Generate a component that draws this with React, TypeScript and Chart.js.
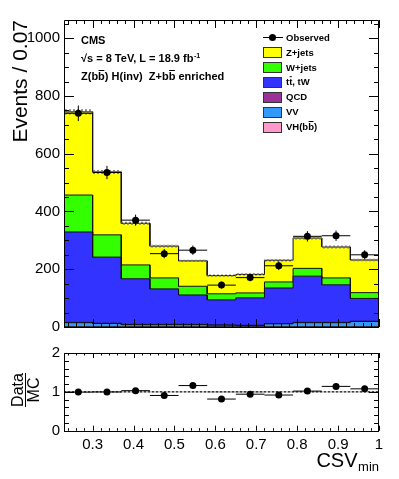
import React, { useEffect, useRef } from 'react';
import { Chart, registerables } from 'chart.js';

Chart.register(...registerables);
Chart.defaults.font.family = "'Liberation Sans', Arial, Helvetica, sans-serif";

// ---------- data ----------
const BIN_EDGES = [0.23, 0.3, 0.37, 0.44, 0.51, 0.58, 0.65, 0.72, 0.79, 0.86, 0.93, 1.0];
const DATA = [740, 535, 370, 254, 266, 145, 171, 212, 314, 316, 250];
const DATA_ERR = [27, 23, 19, 16, 16, 12, 13, 15, 18, 18, 16];
const Z_JETS = [288, 218, 144, 110, 88, 63, 64, 75, 105, 107, 113];
const W_JETS = [128, 77, 48, 38, 30, 21, 17, 21, 27, 24, 20];
const TT_TW = [313, 229, 158, 123, 102, 87, 95, 123, 160, 130, 79];
const QCD = [1, 1, 1, 1, 1, 1, 1, 1, 1, 1, 1];
const VV = [14, 11, 7, 7, 7, 5, 4, 10, 14, 14, 18];
const VH_BB = [1, 1, 1, 1, 1, 1, 1, 1, 1, 1, 1];
const MC_UNC = [9, 7, 5, 5, 4, 4, 4, 4, 5, 5, 4];

const Y_TICKS = [0, 200, 400, 600, 800, 1000];
const RATIO_Y_TICKS = [0, 1, 2];
const X_TICKS = [0.3, 0.4, 0.5, 0.6, 0.7, 0.8, 0.9, 1.0];

const X_MIN = 0.23;
const X_MAX = 1.0;
const Y_MAX = 1063;

// stack from bottom to top
const STACK = [
  { label: 'VH(bb)', values: VH_BB, color: '#FF99CC' },
  { label: 'VV', values: VV, color: '#3399FF' },
  { label: 'QCD', values: QCD, color: '#993399' },
  { label: 'tt, tW', values: TT_TW, color: '#3333FF' },
  { label: 'W+jets', values: W_JETS, color: '#33FF00' },
  { label: 'Z+jets', values: Z_JETS, color: '#FFFF00' },
];

const N = DATA.length;
const TOTAL = DATA.map((_, i) => STACK.reduce((s, c) => s + c.values[i], 0));
const RATIO = DATA.map((d, i) => d / TOTAL[i]);
const RATIO_ERR = DATA_ERR.map((e, i) => e / TOTAL[i]);
const RATIO_UNC = MC_UNC.map((u, i) => u / TOTAL[i]);

const FONT = "'Liberation Sans', Arial, Helvetica, sans-serif";

// ---------- helpers ----------
type P = { x: number; y: number | null };
const center = (i: number) => (BIN_EDGES[i] + BIN_EDGES[i + 1]) / 2;
function hist(values: number[]): P[] {
  const out: P[] = [];
  values.forEach((v, i) => {
    out.push({ x: BIN_EDGES[i], y: v });
    out.push({ x: BIN_EDGES[i + 1], y: v });
  });
  return out;
}
function errX(values: number[]): P[] {
  const out: P[] = [];
  values.forEach((v, i) => {
    out.push({ x: BIN_EDGES[i], y: v });
    out.push({ x: BIN_EDGES[i + 1], y: v });
    out.push({ x: BIN_EDGES[i + 1], y: null });
  });
  return out;
}
function errY(values: number[], errs: number[]): P[] {
  const out: P[] = [];
  values.forEach((v, i) => {
    out.push({ x: center(i), y: v - errs[i] });
    out.push({ x: center(i), y: v + errs[i] });
    out.push({ x: center(i), y: null });
  });
  return out;
}
function points(values: number[]): P[] {
  return values.map((v, i) => ({ x: center(i), y: v }));
}

// draw text parts, some with overline; returns end x
function drawParts(ctx: CanvasRenderingContext2D, parts: [string, boolean][], x: number, baseline: number, barOffset: number) {
  let cx = x;
  for (const [t, bar] of parts) {
    ctx.fillText(t, cx, baseline);
    const w = ctx.measureText(t).width;
    if (bar) {
      ctx.beginPath();
      ctx.lineWidth = 1;
      ctx.moveTo(cx + 0.5, baseline - barOffset);
      ctx.lineTo(cx + w - 0.5, baseline - barOffset);
      ctx.stroke();
    }
    cx += w;
  }
  return cx;
}

function makeHatch(): CanvasPattern | string {
  const pc = document.createElement('canvas');
  pc.width = 4;
  pc.height = 4;
  const c = pc.getContext('2d');
  if (!c) return 'rgba(128,128,128,0.5)';
  c.fillStyle = 'rgba(110,110,110,0.85)';
  for (let i = 0; i < 4; i++) {
    c.fillRect(i, 3 - i, 1, 1);
    c.fillRect(i, i, 1, 1);
  }
  const ctx = document.createElement('canvas').getContext('2d');
  return ctx ? (ctx.createPattern(pc, 'repeat') as CanvasPattern) : 'rgba(128,128,128,0.5)';
}

const px = (v: number) => Math.round(v) + 0.5;

// ---------- plugins ----------
const mainDecor = {
  id: 'mainDecor',
  afterDraw(chart: any) {
    const { ctx, chartArea: a, scales } = chart;
    const x = scales.x;
    const y = scales.y;
    ctx.save();
    ctx.strokeStyle = '#000';
    ctx.lineWidth = 1;
    ctx.beginPath();
    for (let k = 0; k * 50 <= Y_MAX; k++) {
      const v = k * 50;
      const p = px(y.getPixelForValue(v));
      const len = v % 200 === 0 ? 10 : 5;
      ctx.moveTo(a.left, p);
      ctx.lineTo(a.left + len, p);
      ctx.moveTo(a.right, p);
      ctx.lineTo(a.right - len, p);
    }
    for (let k = 12; k <= 50; k++) {
      const v = k * 0.02;
      if (v < X_MIN - 1e-9) continue;
      const p = px(x.getPixelForValue(v));
      const len = k % 5 === 0 ? 8 : 4;
      ctx.moveTo(p, a.bottom);
      ctx.lineTo(p, a.bottom - len);
      ctx.moveTo(p, a.top);
      ctx.lineTo(p, a.top + len);
    }
    ctx.stroke();
    ctx.beginPath();
    ctx.rect(px(a.left), px(a.top), Math.round(a.right - a.left) - 1, Math.round(a.bottom - a.top));
    ctx.stroke();

    // header texts
    ctx.fillStyle = '#000';
    ctx.strokeStyle = '#000';
    ctx.textAlign = 'left';
    ctx.textBaseline = 'alphabetic';
    ctx.font = `bold 11px ${FONT}`;
    ctx.fillText('CMS', 81, 44);
    const end = drawParts(ctx, [['\u221As = 8 TeV, L = 18.9 fb', false]], 81, 62.3, 9);
    ctx.font = `bold 7px ${FONT}`;
    ctx.fillText('-1', end + 0.5, 57.5);
    ctx.font = `bold 11px ${FONT}`;
    drawParts(
      ctx,
      [
        ['Z(b', false],
        ['b', true],
        [') H(inv)  Z+b', false],
        ['b', true],
        [' enriched', false],
      ],
      81,
      80,
      9.5
    );

    // legend
    const lx = 263;
    const tx = 286;
    ctx.font = `bold 9.5px ${FONT}`;
    // Observed
    ctx.beginPath();
    ctx.moveTo(lx, 37.5);
    ctx.lineTo(lx + 20, 37.5);
    ctx.stroke();
    ctx.beginPath();
    ctx.arc(lx + 9.5, 37.5, 3.5, 0, Math.PI * 2);
    ctx.fill();
    ctx.fillText('Observed', tx, 41);
    const entries: { parts: [string, boolean][]; color: string; yc: number }[] = [
      { parts: [['Z+jets', false]], color: '#FFFF00', yc: 52.3 },
      { parts: [['W+jets', false]], color: '#33FF00', yc: 67 },
      { parts: [['t', false], ['t', true], [', tW', false]], color: '#3333FF', yc: 81.7 },
      { parts: [['QCD', false]], color: '#993399', yc: 96.7 },
      { parts: [['VV', false]], color: '#3399FF', yc: 111.5 },
      { parts: [['VH(b', false], ['b', true], [')', false]], color: '#FF99CC', yc: 126.5 },
    ];
    for (const e of entries) {
      const top = Math.round(e.yc - 5);
      ctx.fillStyle = e.color;
      ctx.fillRect(lx + 0.5, top + 0.5, 18, 10);
      ctx.strokeStyle = '#333';
      ctx.strokeRect(lx + 0.5, top + 0.5, 18, 10);
      ctx.fillStyle = '#000';
      ctx.strokeStyle = '#000';
      drawParts(ctx, e.parts, tx, e.yc + 3.5, 8.5);
    }
    ctx.restore();
  },
};

const ratioDecor = {
  id: 'ratioDecor',
  afterDraw(chart: any) {
    const { ctx, chartArea: a, scales } = chart;
    const x = scales.x;
    const y = scales.y;
    ctx.save();
    ctx.strokeStyle = '#000';
    ctx.lineWidth = 1;
    ctx.beginPath();
    for (let k = 0; k <= 10; k++) {
      const v = k * 0.2;
      const p = px(y.getPixelForValue(v));
      const len = k % 5 === 0 ? 10 : 5;
      ctx.moveTo(a.left, p);
      ctx.lineTo(a.left + len, p);
      ctx.moveTo(a.right, p);
      ctx.lineTo(a.right - len, p);
    }
    for (let k = 12; k <= 50; k++) {
      const v = k * 0.02;
      if (v < X_MIN - 1e-9) continue;
      const p = px(x.getPixelForValue(v));
      const len = k % 5 === 0 ? 5 : 2.5;
      ctx.moveTo(p, a.bottom);
      ctx.lineTo(p, a.bottom - len);
      ctx.moveTo(p, a.top);
      ctx.lineTo(p, a.top + len);
    }
    ctx.stroke();
    ctx.beginPath();
    ctx.rect(px(a.left), px(a.top), Math.round(a.right - a.left) - 1, Math.round(a.bottom - a.top));
    ctx.stroke();

    // Data / MC
    ctx.fillStyle = '#000';
    ctx.save();
    ctx.translate(25, 50);
    ctx.rotate(-Math.PI / 2);
    ctx.font = `16px ${FONT}`;
    ctx.textAlign = 'center';
    ctx.textBaseline = 'alphabetic';
    ctx.fillText('Data', 0, -2);
    ctx.fillText('MC', 0, 13.5);
    ctx.beginPath();
    ctx.moveTo(-17, 0.5);
    ctx.lineTo(17, 0.5);
    ctx.stroke();
    ctx.restore();

    // CSV_min
    ctx.textAlign = 'left';
    ctx.textBaseline = 'alphabetic';
    ctx.font = `13px ${FONT}`;
    const wMin = ctx.measureText('min').width;
    const minX = 379 - wMin;
    ctx.fillText('min', minX, 131);
    ctx.font = `20px ${FONT}`;
    const wCsv = ctx.measureText('CSV').width;
    ctx.fillText('CSV', minX - wCsv - 0.5, 126.7);
    ctx.restore();
  },
};

// ---------- configs ----------
function mainConfig(): any {
  const hatch = makeHatch();
  const datasets: any[] = [];
  let run = new Array(N).fill(0);
  STACK.forEach((s, k) => {
    run = run.map((r: number, i: number) => r + s.values[i]);
    datasets.push({
      label: s.label,
      data: hist(run),
      backgroundColor: s.color,
      borderColor: '#111',
      borderWidth: 1,
      fill: k === 0 ? 'origin' : '-1',
      pointRadius: 0,
      order: 0,
    });
  });
  datasets.push({
    label: 'unc-lo',
    data: hist(TOTAL.map((t, i) => t - MC_UNC[i])),
    borderWidth: 0,
    borderColor: 'rgba(0,0,0,0)',
    fill: false,
    pointRadius: 0,
    order: -1,
  });
  datasets.push({
    label: 'unc-hi',
    data: hist(TOTAL.map((t, i) => t + MC_UNC[i])),
    borderWidth: 0,
    borderColor: 'rgba(0,0,0,0)',
    backgroundColor: hatch,
    fill: '-1',
    pointRadius: 0,
    order: -1,
  });
  datasets.push({
    label: 'err-x',
    data: errX(DATA),
    borderColor: '#000',
    borderWidth: 1,
    pointRadius: 0,
    fill: false,
    spanGaps: false,
    order: -2,
  });
  datasets.push({
    label: 'err-y',
    data: errY(DATA, DATA_ERR),
    borderColor: '#000',
    borderWidth: 1,
    pointRadius: 0,
    fill: false,
    spanGaps: false,
    order: -2,
  });
  datasets.push({
    label: 'Observed',
    data: points(DATA),
    showLine: false,
    pointRadius: 3.5,
    pointBackgroundColor: '#000',
    pointBorderColor: '#000',
    pointBorderWidth: 0,
    fill: false,
    order: -3,
  });

  return {
    type: 'line',
    data: { datasets },
    options: {
      animation: false,
      responsive: false,
      maintainAspectRatio: false,
      events: [],
      layout: { padding: { left: 0, right: 20, top: 20, bottom: 11.7 } },
      plugins: { legend: { display: false }, tooltip: { enabled: false } },
      scales: {
        x: { type: 'linear', min: X_MIN, max: X_MAX, display: false },
        y: {
          type: 'linear',
          min: 0,
          max: Y_MAX,
          afterBuildTicks: (s: any) => {
            s.ticks = Y_TICKS.map((v) => ({ value: v }));
          },
          afterFit: (s: any) => {
            s.width = 64;
          },
          grid: { display: false, drawTicks: false },
          border: { display: false },
          ticks: {
            font: { size: 15 },
            color: '#000',
            padding: 4,
            autoSkip: false,
            callback: (v: any) => String(v),
          },
          title: {
            display: true,
            text: 'Events / 0.07',
            align: 'end',
            color: '#000',
            font: { size: 21 },
            padding: { top: 8.5, bottom: 0 },
          },
        },
      },
    },
    plugins: [mainDecor],
  };
}

function ratioConfig(): any {
  const datasets: any[] = [
    {
      label: 'r-unc-lo',
      data: hist(RATIO_UNC.map((u) => 1 - u)),
      borderWidth: 0,
      borderColor: 'rgba(0,0,0,0)',
      fill: false,
      pointRadius: 0,
      order: 0,
    },
    {
      label: 'r-unc-hi',
      data: hist(RATIO_UNC.map((u) => 1 + u)),
      borderWidth: 0,
      borderColor: 'rgba(0,0,0,0)',
      backgroundColor: 'rgba(150,150,150,0.8)',
      fill: '-1',
      pointRadius: 0,
      order: 0,
    },
    {
      label: 'one',
      data: [
        { x: X_MIN, y: 1 },
        { x: X_MAX, y: 1 },
      ],
      borderColor: '#000',
      borderWidth: 1,
      borderDash: [2, 2],
      pointRadius: 0,
      fill: false,
      order: -1,
    },
    {
      label: 'r-err-x',
      data: errX(RATIO),
      borderColor: '#000',
      borderWidth: 1,
      pointRadius: 0,
      fill: false,
      spanGaps: false,
      order: -2,
    },
    {
      label: 'r-err-y',
      data: errY(RATIO, RATIO_ERR),
      borderColor: '#000',
      borderWidth: 1,
      pointRadius: 0,
      fill: false,
      spanGaps: false,
      order: -2,
    },
    {
      label: 'ratio',
      data: points(RATIO),
      showLine: false,
      pointRadius: 3.5,
      pointBackgroundColor: '#000',
      pointBorderColor: '#000',
      pointBorderWidth: 0,
      fill: false,
      order: -3,
    },
  ];
  return {
    type: 'line',
    data: { datasets },
    options: {
      animation: false,
      responsive: false,
      maintainAspectRatio: false,
      events: [],
      layout: { padding: { left: 0, right: 20, top: 8.3, bottom: 0 } },
      plugins: { legend: { display: false }, tooltip: { enabled: false } },
      scales: {
        x: {
          type: 'linear',
          min: X_MIN,
          max: X_MAX,
          afterBuildTicks: (s: any) => {
            s.ticks = X_TICKS.map((v) => ({ value: v }));
          },
          afterFit: (s: any) => {
            s.height = 48.3;
          },
          grid: { display: false, drawTicks: false },
          border: { display: false },
          ticks: {
            font: { size: 15 },
            color: '#000',
            padding: 5,
            autoSkip: false,
            maxRotation: 0,
            callback: (v: any) => String(Math.round(Number(v) * 10) / 10),
          },
        },
        y: {
          type: 'linear',
          min: 0,
          max: 2,
          afterBuildTicks: (s: any) => {
            s.ticks = RATIO_Y_TICKS.map((v) => ({ value: v }));
          },
          afterFit: (s: any) => {
            s.width = 64;
          },
          grid: { display: false, drawTicks: false },
          border: { display: false },
          ticks: {
            font: { size: 15 },
            color: '#000',
            padding: 4,
            autoSkip: false,
            callback: (v: any) => String(v),
          },
        },
      },
    },
    plugins: [ratioDecor],
  };
}

export default function App() {
  const mainRef = useRef<HTMLCanvasElement>(null);
  const ratioRef = useRef<HTMLCanvasElement>(null);
  useEffect(() => {
    if (!mainRef.current || !ratioRef.current) return;
    const c1 = new Chart(mainRef.current, mainConfig());
    const c2 = new Chart(ratioRef.current, ratioConfig());
    return () => {
      c1.destroy();
      c2.destroy();
    };
  }, []);
  return (
    <div style={{ position: 'absolute', left: 0, top: 0, width: 399, height: 479, background: '#fff' }}>
      <canvas ref={mainRef} width={399} height={340} style={{ position: 'absolute', left: 0, top: 0 }} />
      <canvas ref={ratioRef} width={399} height={139} style={{ position: 'absolute', left: 0, top: 340 }} />
    </div>
  );
}
